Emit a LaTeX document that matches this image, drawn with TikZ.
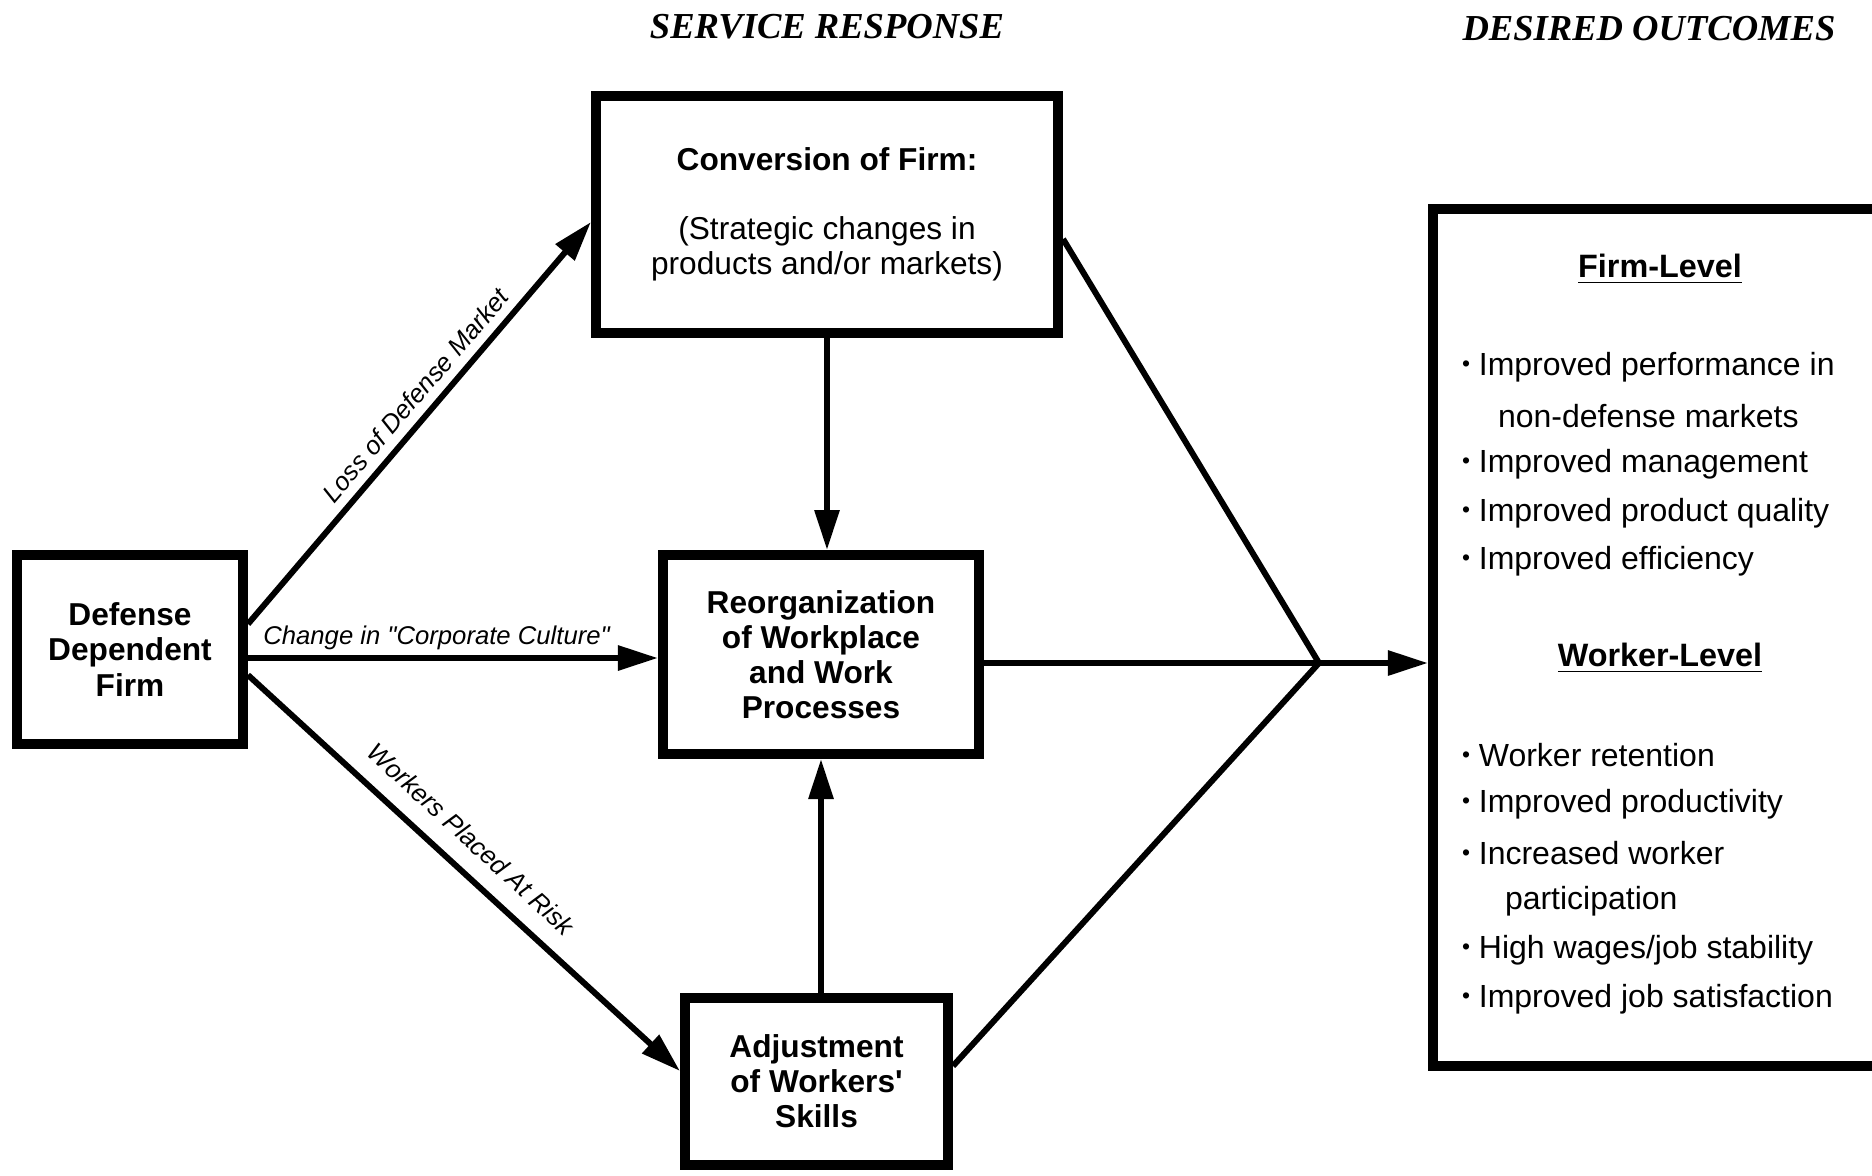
\documentclass[tikz,border=0pt]{standalone}
\usepackage{fontspec}
\setmainfont{Liberation Serif}
\setsansfont{Liberation Sans}
\usetikzlibrary{arrows.meta}
\newcommand\bul{\raisebox{.12em}{\fontsize{6.5}{6}\selectfont•}}
\begin{document}
\begin{tikzpicture}[x=.01cm,y=-.01cm,line width=1.7pt,>={Triangle[length=.4cm,width=.24cm]},
  box/.style={draw,line width=2.8pt,align=center,inner sep=0pt,font=\sffamily\bfseries\fontsize{9}{10}\selectfont},
  lbl/.style={sloped,inner sep=0pt,font=\sffamily\itshape\fontsize{7.3}{8}\selectfont},
  head/.style={font=\rmfamily\bfseries\itshape\fontsize{10.4}{12}\selectfont},
  item/.style={anchor=west,inner sep=0pt,font=\sffamily\fontsize{9.1}{11}\selectfont},
  level/.style={inner sep=0pt,font=\sffamily\bfseries\fontsize{9.2}{11}\selectfont}]
  \useasboundingbox (0,0) rectangle (1872,1175);
  % column titles
  \node[head] (svc) at (827,27) {SERVICE RESPONSE};
  \node[head] (des) at (1649,29) {DESIRED OUTCOMES};
  % boxes
  \node[box,minimum width=2.26cm,minimum height=1.89cm] (defense) at (130,649.5) {Defense\\Dependent\\Firm};
  \node[box,minimum width=4.62cm,minimum height=2.37cm] (conv) at (827,214.5)
    {Conversion of Firm:\\[9.7pt]\mdseries(Strategic changes in\\\mdseries products and/or markets)};
  \node[box,minimum width=3.16cm,minimum height=1.99cm] (reorg) at (821,654.5) {Reorganization\\of Workplace\\and Work\\Processes};
  \node[box,minimum width=2.63cm,minimum height=1.67cm] (adj) at (816.5,1081.5) {Adjustment\\of Workers\textquotesingle\\Skills};
  \node[box,minimum width=4.67cm,minimum height=8.57cm] (outc) at (1666.5,637.5) {};
  \coordinate (junc) at (1319,663);
  % connectors
  \draw[->] ([yshift=.255cm]defense.east) -- ([yshift=-.075cm]conv.west)
    node[lbl,pos=.535,above=2.5pt] {Loss of Defense Market};
  \draw[->] ([yshift=-.085cm]defense.east) coordinate (d2) -- (d2 -| reorg.west)
    node[lbl,pos=.46,above=1.5pt] {Change in \textquotedbl Corporate Culture\textquotedbl};
  \draw[->] ([yshift=-.255cm]defense.east) -- ([yshift=.105cm]adj.west)
    node[lbl,pos=.47,above=5pt] {Workers Placed At Risk};
  \draw[->] (conv.south) -- (conv.south |- reorg.north);
  \draw[->] (adj.north -| reorg.south) -- (reorg.south);
  \draw ([yshift=-.245cm]conv.east) -- (junc);
  \draw (reorg.east |- junc) -- (junc);
  \draw ([yshift=.155cm]adj.east) -- (junc);
  \draw[->] (junc) -- (junc -| outc.west);
  % outcomes
  \node[level] (firm) at (1660,269) {\underline{Firm-Level}};
  \node[item] (f1) at (1459,367) {\bul\ Improved performance in};
  \node[item] (f1b) at (1495,416) {non-defense markets};
  \node[item] (f2) at (1459,464) {\bul\ Improved management};
  \node[item] (f3) at (1459,513) {\bul\ Improved product quality};
  \node[item] (f4) at (1459,561) {\bul\ Improved efficiency};
  \node[level] (worker) at (1660,658) {\underline{Worker-Level}};
  \node[item] (w1) at (1459,755) {\bul\ Worker retention};
  \node[item] (w2) at (1459,804) {\bul\ Improved productivity};
  \node[item] (w3) at (1459,853) {\bul\ Increased worker};
  \node[item] (w3b) at (1502,901) {participation};
  \node[item] (w4) at (1459,950) {\bul\ High wages/job stability};
  \node[item] (w5) at (1459,999) {\bul\ Improved job satisfaction};
\end{tikzpicture}
\end{document}
